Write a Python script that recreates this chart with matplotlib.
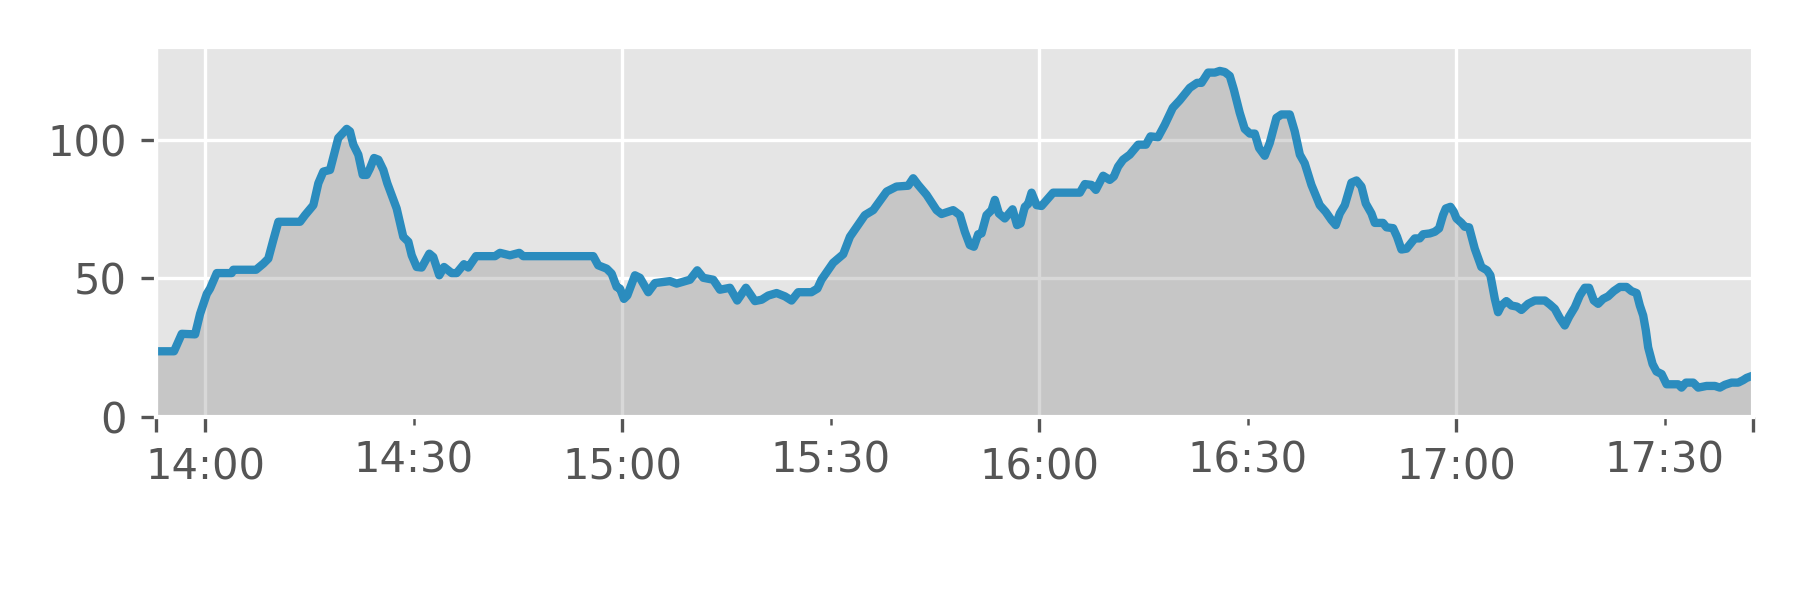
import numpy as np
import pandas as pd
import matplotlib
matplotlib.use("Agg")
import matplotlib.pyplot as plt
import matplotlib.dates as mdates

plt.style.use('ggplot')

day = "2020-01-01 "

# sample times and values
times = [
    "13:52:57", "13:55:32", "13:56:39", "13:58:34", "13:59:17", "14:00:15", "14:00:43", "14:01:41", "14:03:50", "14:04:04",
    "14:07:20", "14:08:23", "14:09:06", "14:09:49", "14:10:33", "14:13:40", "14:14:23", "14:15:35", "14:16:18", "14:17:01",
    "14:17:59", "14:19:10", "14:20:23", "14:20:51", "14:21:20", "14:22:03", "14:22:41", "14:23:15", "14:23:44", "14:24:19",
    "14:24:56", "14:25:39", "14:26:13", "14:27:34", "14:28:31", "14:29:15", "14:29:44", "14:30:27", "14:31:10", "14:32:16",
    "14:32:50", "14:33:42", "14:34:23", "14:35:29", "14:36:12", "14:37:15", "14:37:52", "14:38:59", "14:41:43", "14:42:26",
    "14:43:52", "14:45:13", "14:45:47", "14:55:51", "14:56:34", "14:57:47", "14:58:30", "14:59:13", "14:59:42", "15:00:16",
    "15:00:45", "15:01:51", "15:02:34", "15:03:46", "15:04:44", "15:05:55", "15:06:53", "15:07:51", "15:09:46", "15:10:49",
    "15:11:41", "15:13:07", "15:14:05", "15:15:31", "15:16:34", "15:17:49", "15:19:07", "15:20:05", "15:21:02", "15:22:14",
    "15:23:26", "15:24:23", "15:25:20", "15:27:14", "15:28:06", "15:28:41", "15:30:22", "15:31:49", "15:32:47", "15:34:56",
    "15:36:08", "15:38:04", "15:39:29", "15:41:10", "15:41:53", "15:42:36", "15:43:49", "15:45:15", "15:45:58", "15:47:38",
    "15:48:36", "15:49:19", "15:50:02", "15:50:37", "15:51:14", "15:51:43", "15:52:26", "15:53:10", "15:53:38", "15:54:13",
    "15:55:04", "15:56:11", "15:56:50", "15:57:20", "15:57:57", "15:58:25", "15:58:55", "15:59:38", "16:00:21", "16:02:01",
    "16:05:52", "16:06:35", "16:07:32", "16:08:10", "16:09:13", "16:10:10", "16:10:45", "16:11:22", "16:12:05", "16:13:03",
    "16:14:15", "16:15:22", "16:16:02", "16:17:07", "16:18:05", "16:19:14", "16:20:14", "16:21:41", "16:22:44", "16:23:22",
    "16:24:19", "16:25:17", "16:26:00", "16:26:43", "16:27:26", "16:28:01", "16:28:52", "16:29:35", "16:30:19", "16:31:02",
    "16:31:39", "16:32:28", "16:33:11", "16:34:09", "16:34:52", "16:36:04", "16:36:47", "16:37:31", "16:38:13", "16:39:11",
    "16:40:23", "16:41:14", "16:42:04", "16:42:41", "16:43:16", "16:43:59", "16:44:56", "16:45:40", "16:46:23", "16:47:00",
    "16:47:49", "16:48:18", "16:49:29", "16:49:59", "16:50:56", "16:51:30", "16:52:08", "16:52:52", "16:54:03", "16:54:46",
    "16:55:15", "16:56:13", "16:56:56", "16:57:33", "16:58:07", "16:58:31", "16:59:11", "16:59:40", "17:00:03", "17:00:46",
    "17:01:14", "17:01:52", "17:02:41", "17:03:38", "17:04:27", "17:04:56", "17:05:34", "17:06:02", "17:06:31", "17:07:14",
    "17:07:58", "17:08:46", "17:09:24", "17:10:21", "17:11:19", "17:12:46", "17:13:29", "17:14:12", "17:14:55", "17:15:38",
    "17:16:16", "17:17:05", "17:17:48", "17:18:31", "17:19:08", "17:19:49", "17:20:26", "17:21:09", "17:21:52", "17:22:41",
    "17:23:33", "17:24:31", "17:25:14", "17:25:58", "17:26:26", "17:26:55", "17:27:18", "17:27:38", "17:28:16", "17:28:50",
    "17:29:34", "17:30:17", "17:31:57", "17:32:26", "17:33:04", "17:34:07", "17:34:50", "17:36:02", "17:37:14", "17:37:57",
    "17:38:40", "17:39:38", "17:40:35", "17:41:18", "17:41:48", "17:42:40",
]

values = [
    23.7, 23.7, 30.0, 29.8, 37.2, 44.4, 46.3, 51.9, 51.9, 53.1,
    53.1, 55.3, 57.1, 63.8, 70.4, 70.4, 72.8, 76.4, 84.3, 88.5,
    89.1, 100.6, 103.9, 103.0, 98.2, 94.6, 87.3, 87.3, 89.7, 93.4,
    92.8, 89.1, 84.3, 75.2, 65.0, 63.2, 58.3, 54.1, 53.9, 58.9,
    57.7, 51.1, 54.1, 51.9, 51.9, 55.1, 53.9, 58.0, 58.0, 59.2,
    58.3, 59.2, 58.0, 58.0, 54.7, 53.5, 51.7, 46.9, 46.3, 42.6,
    43.8, 51.1, 50.2, 45.0, 48.3, 48.7, 49.0, 48.1, 49.5, 52.9,
    50.2, 49.5, 45.9, 46.6, 42.0, 46.6, 41.8, 42.3, 43.8, 44.7,
    43.5, 42.0, 45.0, 45.0, 46.3, 49.5, 55.6, 58.7, 65.0, 72.8,
    74.6, 81.3, 83.1, 83.4, 86.1, 83.7, 80.1, 74.6, 73.2, 74.6,
    72.8, 66.8, 62.0, 61.4, 65.9, 66.2, 72.8, 74.6, 78.3, 73.4,
    71.6, 74.9, 69.2, 69.8, 75.8, 76.8, 80.9, 76.4, 76.1, 80.9,
    80.9, 84.0, 83.7, 81.9, 87.0, 85.5, 86.7, 90.3, 92.8, 94.6,
    98.2, 98.2, 101.2, 100.9, 105.4, 111.5, 114.2, 118.7, 120.5, 120.5,
    124.2, 124.2, 124.8, 124.4, 123.0, 118.1, 109.7, 103.9, 102.2, 102.2,
    97.0, 94.2, 98.8, 107.9, 109.1, 109.1, 103.0, 94.6, 91.5, 83.7,
    76.4, 74.0, 71.0, 69.2, 73.4, 76.4, 84.5, 85.3, 83.1, 77.0,
    73.4, 70.0, 70.0, 68.4, 68.1, 65.0, 60.4, 60.7, 64.4, 64.4,
    65.9, 66.2, 66.8, 68.0, 72.8, 75.2, 75.8, 74.0, 71.6, 70.0,
    68.6, 68.4, 60.7, 54.1, 52.9, 51.1, 42.6, 37.8, 40.2, 41.8,
    40.2, 39.8, 38.6, 40.8, 42.0, 42.0, 40.6, 39.0, 35.7, 33.0,
    36.2, 39.6, 43.8, 46.6, 46.6, 42.0, 40.8, 42.6, 43.5, 45.4,
    46.9, 46.9, 45.4, 44.7, 40.2, 36.6, 31.2, 25.1, 19.1, 16.4,
    15.5, 11.8, 11.8, 10.6, 12.4, 12.4, 10.6, 11.2, 11.2, 10.6,
    11.6, 12.4, 12.4, 13.3, 14.1, 14.9,
]

hour_ticks = ["14:00", "15:00", "16:00", "17:00"]
half_ticks = ["14:30", "15:30", "16:30", "17:30"]
y_ticks = [0, 50, 100]


def to_num(labels):
    return mdates.date2num(pd.to_datetime([day + t for t in labels]))


x = to_num(times)
y = np.array(values)

fig = plt.figure(figsize=(6, 2), dpi=300)
ax = fig.add_axes([0.0867, 0.305, 0.887, 0.617])

ax.fill_between(x, y, 0, color='gray', alpha=0.3, linewidth=0)
ax.plot(x, y, color='#2b8cbe', linewidth=2.0,
        solid_joinstyle='round', solid_capstyle='round')

ax.set_xlim(x[0], x[-1])
ax.set_ylim(0, 133.5)
ax.set_yticks(y_ticks)

# major ticks on the hours plus the two ends of the data, minor on the half hours
major = np.concatenate([[x[0]], to_num(hour_ticks), [x[-1]]])
ax.set_xticks(major, labels=[''] + hour_ticks + [''])
ax.set_xticks(to_num(half_ticks), labels=half_ticks, minor=True)
ax.grid(True, which='major', axis='both')
ax.grid(False, which='minor')

fig.savefig("out.png", dpi=300)
